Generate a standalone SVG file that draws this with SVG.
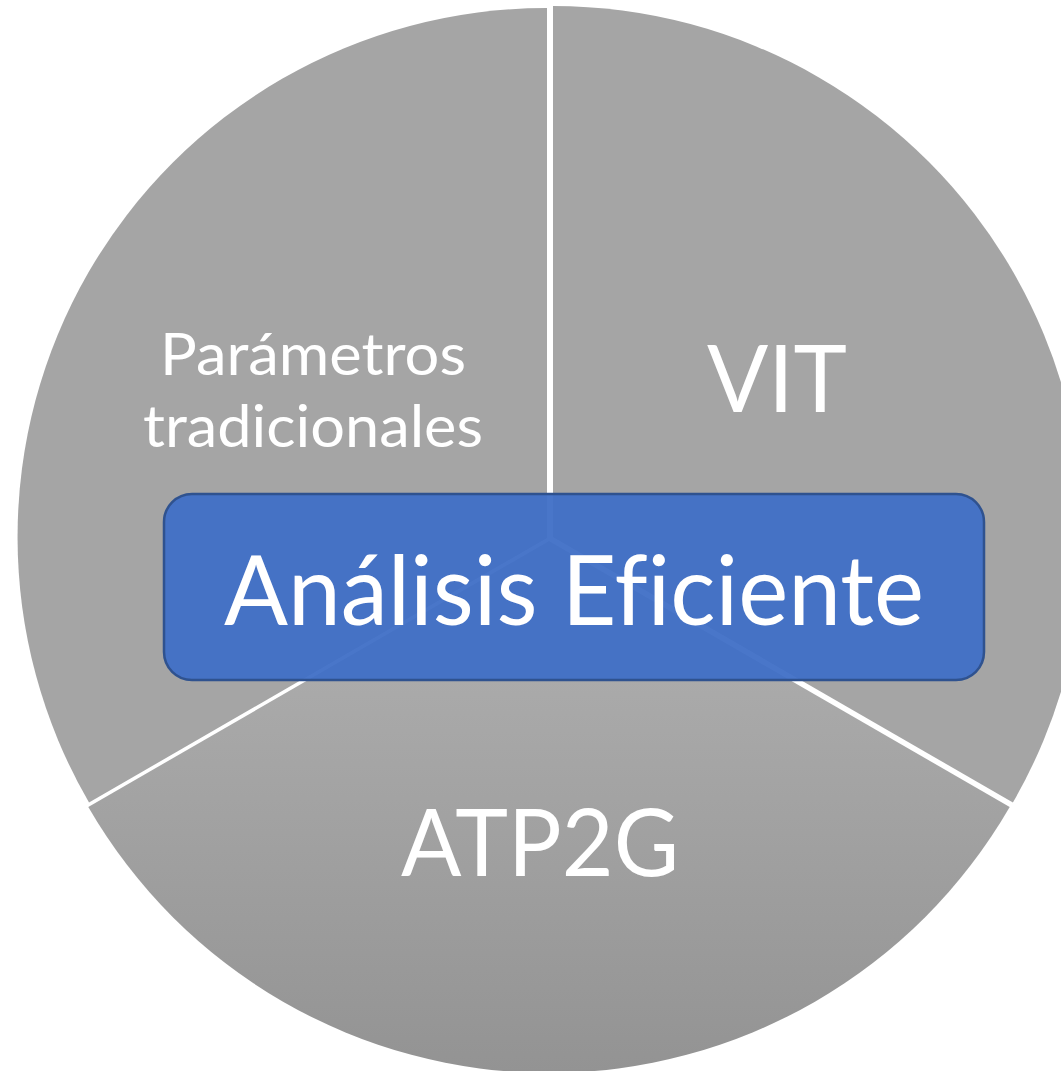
<svg xmlns="http://www.w3.org/2000/svg" width="1061" height="1071" viewBox="0 0 1061 1071">
  <defs>
    <linearGradient id="gBottom" gradientUnits="userSpaceOnUse" x1="0" y1="541" x2="0" y2="1073">
      <stop offset="0" stop-color="#b2b2b2"/>
      <stop offset="1" stop-color="#939393"/>
    </linearGradient>
  </defs>
  <style>
    .slice { fill: #a5a5a5; }
    .lbl { fill: #ffffff; font-family: Lato, "Liberation Sans", sans-serif; text-anchor: middle; font-variant-ligatures: none; font-feature-settings: "liga" 0, "clig" 0; }
    .box { fill: #3f6fc6; fill-opacity: 0.95; stroke: #2f528f; stroke-width: 2.5; }
  </style>
  <rect width="1061" height="1071" fill="#ffffff"/>
  <g id="connectors"/>
  <g id="node-parametros">
    <path class="slice" d="M547,538 L547,8 A529,529 0 0 0 89,802.5 Z"/>
    <text class="lbl" x="313" y="375" font-size="58" textLength="306" lengthAdjust="spacingAndGlyphs">Parámetros</text>
    <text class="lbl" x="313" y="447" font-size="58" textLength="340" lengthAdjust="spacingAndGlyphs">tradicionales</text>
  </g>
  <g id="node-vit">
    <path class="slice" d="M553,537 L553,6 A531,531 0 0 1 1012.9,802.5 Z"/>
    <text class="lbl" x="777" y="412" font-size="94" textLength="140" lengthAdjust="spacingAndGlyphs">VIT</text>
  </g>
  <g id="node-atp2g">
    <path d="M549,541 L1009.7,807 A532,532 0 0 1 88.3,807 Z" fill="url(#gBottom)"/>
    <text class="lbl" x="540" y="876" font-size="94" textLength="278" lengthAdjust="spacingAndGlyphs">ATP2G</text>
  </g>
  <g id="node-analisis">
    <rect class="box" x="164" y="494" width="820" height="186" rx="28" ry="28"/>
    <text class="lbl" x="574" y="625" font-size="96" textLength="700" lengthAdjust="spacingAndGlyphs">Análisis Eficiente</text>
  </g>
</svg>
